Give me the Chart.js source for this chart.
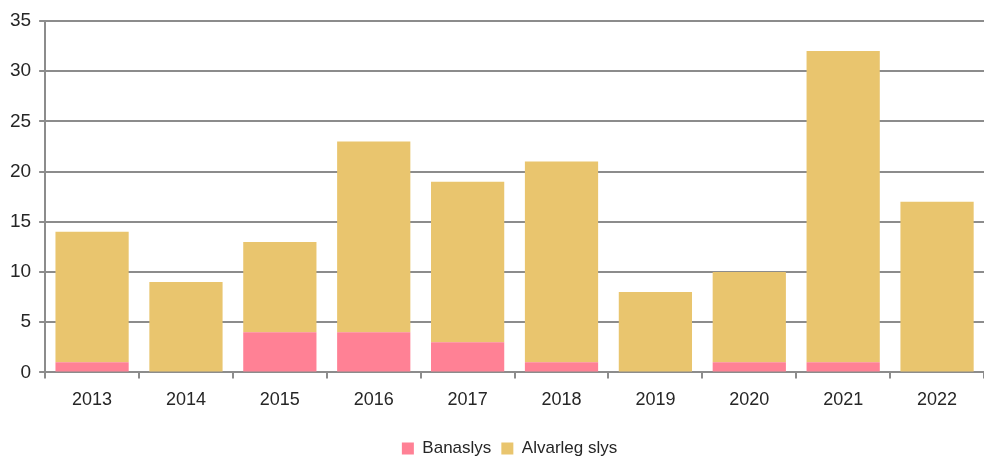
<!DOCTYPE html>
<html>
<head>
<meta charset="utf-8">
<script src="https://cdn.jsdelivr.net/npm/chart.js@4/dist/chart.umd.min.js"></script>
<style>
  html, body { margin: 0; padding: 0; background: #ffffff; }
  #wrap { width: 984px; height: 460px; position: relative; }
</style>
</head>
<body>
<div id="wrap"><canvas id="chart" width="984" height="460"></canvas></div>
<script>
// Accidents per year, split by type
const years = ['2013', '2014', '2015', '2016', '2017', '2018', '2019', '2020', '2021', '2022'];
const banaslys = [1, 0, 4, 4, 3, 1, 0, 1, 1, 0];
const alvarlegSlys = [13, 9, 9, 19, 16, 20, 8, 9, 31, 17];
const seriesNames = ['Banaslys', 'Alvarleg slys'];
const yTicks = [0, 5, 10, 15, 20, 25, 30, 35];

const axisGrey = '#8c8c8c';
const textColor = '#262626';
const family = 'Liberation Sans, Arial, sans-serif';

// Centre the legend under the plot area and set it close to the bottom edge
const legendUnderPlot = {
  id: 'legendUnderPlot',
  afterLayout(chart) {
    const lg = chart.legend;
    const area = chart.chartArea;
    const dx = (area.left + area.right) / 2 - (lg.left + lg.right) / 2 - 5;
    lg.left += dx;
    lg.right += dx;
    lg.top += 7;
    lg.bottom += 7;
  }
};

new Chart(document.getElementById('chart'), {
  type: 'bar',
  data: {
    labels: years,
    datasets: [
      { label: seriesNames[0], data: banaslys, backgroundColor: '#ff8195', borderWidth: 0 },
      { label: seriesNames[1], data: alvarlegSlys, backgroundColor: '#e9c56e', borderWidth: 0 }
    ]
  },
  plugins: [legendUnderPlot],
  options: {
    responsive: false,
    animation: false,
    devicePixelRatio: 1,
    categoryPercentage: 0.78,
    barPercentage: 1.0,
    layout: { padding: { top: 21, right: 0, left: 2, bottom: 0 } },
    plugins: {
      tooltip: { enabled: false },
      legend: {
        position: 'bottom',
        labels: {
          color: textColor,
          font: { family: family, size: 17 },
          boxWidth: 12,
          boxHeight: 12,
          padding: 10
        }
      }
    },
    scales: {
      x: {
        stacked: true,
        afterFit: (scale) => { scale.height += 1; },
        grid: {
          display: true,
          drawOnChartArea: false,
          drawTicks: true,
          tickLength: 6,
          color: axisGrey,
          lineWidth: 2,
          offset: true
        },
        border: { display: true, color: axisGrey, width: 2 },
        ticks: { color: textColor, font: { family: family, size: 18 }, padding: 11 }
      },
      y: {
        stacked: true,
        min: 0,
        max: 35,
        afterBuildTicks: (axis) => { axis.ticks = yTicks.map(v => ({ value: v })); },
        grid: {
          color: axisGrey,
          lineWidth: 2,
          drawTicks: true,
          tickLength: 6
        },
        border: { display: true, color: axisGrey, width: 2 },
        ticks: { color: textColor, font: { family: family, size: 19 }, padding: 8 }
      }
    }
  }
});
</script>
</body>
</html>
